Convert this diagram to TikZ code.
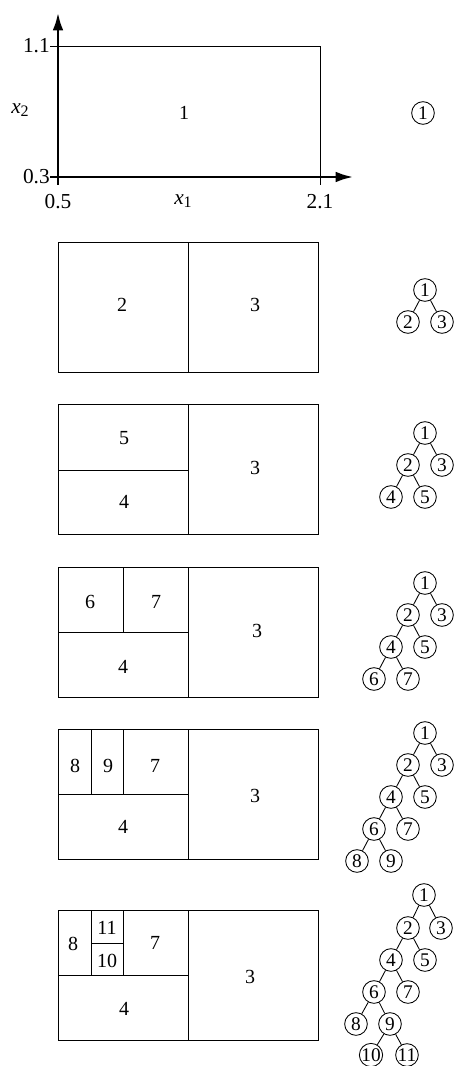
\documentclass[tikz,border=0pt]{standalone}
\usepackage{fontspec}
\setmainfont{Liberation Serif}
\usetikzlibrary{arrows.meta}
\begin{document}
\begin{tikzpicture}[x=0.75pt,y=-0.75pt,
  cell/.style={draw, line width=0.65pt},
  lab/.style={font=\fontsize{15}{17}\selectfont, inner sep=0pt},
  axlab/.style={font=\fontsize{16}{18}\selectfont, inner sep=0pt},
  tn/.style={circle, draw, line width=0.65pt, minimum size=17pt, inner sep=0pt, font=\fontsize{14.5}{16}\selectfont},
  tedge/.style={line width=0.65pt},
  axis/.style={line width=1.7pt, -{Latex[length=13pt,width=8pt]}}]
\useasboundingbox (0,0) rectangle (453,1066);

% ---------- Panel 1 ----------
\coordinate (xs) at (50,177);
\coordinate (xe) at (353,177);
\coordinate (ys) at (58,185);
\coordinate (ye) at (58,13);
\draw[cell] (50,46) -- (320,46) -- (320,185);
\draw[axis] (ys) -- (ye);
\draw[axis] (xs) -- (xe);
\node[axlab, anchor=east] (l11) at (50,46) {1.1};
\node[axlab, anchor=east] (l03) at (50,177) {0.3};
\node[axlab] (l05) at (58,202) {0.5};
\node[axlab] (l21) at (320,202) {2.1};
\node[axlab] (lx1) at (183,201) {\textit{x}\raisebox{-0.35ex}{\fontsize{12}{13}\selectfont 1}};
\node[axlab] (lx2) at (20,110) {\textit{x}\raisebox{-0.35ex}{\fontsize{12}{13}\selectfont 2}};
\node[lab] (r1) at (184,113) {1};
\node[tn] (a1) at (423,113) {1};

% ---------- Panel 2 ----------
\draw[cell] (58,242) rectangle (318,372);
\draw[cell] (188,242) -- (188,372);
\node[lab] (b2) at (122,305) {2};
\node[lab] (b3) at (255,305) {3};
\node[tn] (bt1) at (425,290) {1};
\node[tn] (bt2) at (408,322) {2};
\node[tn] (bt3) at (442,322) {3};
\draw[tedge] (bt1) -- (bt2);
\draw[tedge] (bt1) -- (bt3);

% ---------- Panel 3 ----------
\draw[cell] (58,404) rectangle (318,534);
\draw[cell] (188,404) -- (188,534);
\draw[cell] (58,470) -- (188,470);
\node[lab] (c5) at (124,438) {5};
\node[lab] (c4) at (124,502) {4};
\node[lab] (c3) at (255,468) {3};
\node[tn] (ct1) at (425,433) {1};
\node[tn] (ct2) at (408,465) {2};
\node[tn] (ct3) at (442,465) {3};
\node[tn] (ct4) at (391,497) {4};
\node[tn] (ct5) at (425,497) {5};
\draw[tedge] (ct1) -- (ct2);
\draw[tedge] (ct1) -- (ct3);
\draw[tedge] (ct2) -- (ct4);
\draw[tedge] (ct2) -- (ct5);

% ---------- Panel 4 ----------
\draw[cell] (58,567) rectangle (318,697);
\draw[cell] (188,567) -- (188,697);
\draw[cell] (58,632) -- (188,632);
\draw[cell] (123,567) -- (123,632);
\node[lab] (d6) at (90,602) {6};
\node[lab] (d7) at (156,602) {7};
\node[lab] (d4) at (123,667) {4};
\node[lab] (d3) at (257,631) {3};
\node[tn] (dt1) at (425,583) {1};
\node[tn] (dt2) at (408,615) {2};
\node[tn] (dt3) at (442,615) {3};
\node[tn] (dt4) at (391,647) {4};
\node[tn] (dt5) at (425,647) {5};
\node[tn] (dt6) at (374,679) {6};
\node[tn] (dt7) at (408,679) {7};
\draw[tedge] (dt1) -- (dt2);
\draw[tedge] (dt1) -- (dt3);
\draw[tedge] (dt2) -- (dt4);
\draw[tedge] (dt2) -- (dt5);
\draw[tedge] (dt4) -- (dt6);
\draw[tedge] (dt4) -- (dt7);

% ---------- Panel 5 ----------
\draw[cell] (58,729) rectangle (318,859);
\draw[cell] (188,729) -- (188,859);
\draw[cell] (58,794) -- (188,794);
\draw[cell] (91,729) -- (91,794);
\draw[cell] (123,729) -- (123,794);
\node[lab] (e8) at (75,766) {8};
\node[lab] (e9) at (108,766) {9};
\node[lab] (e7) at (155,766) {7};
\node[lab] (e4) at (123,827) {4};
\node[lab] (e3) at (255,796) {3};
\node[tn] (et1) at (425,733) {1};
\node[tn] (et2) at (408,765) {2};
\node[tn] (et3) at (442,765) {3};
\node[tn] (et4) at (391,797) {4};
\node[tn] (et5) at (425,797) {5};
\node[tn] (et6) at (374,829) {6};
\node[tn] (et7) at (408,829) {7};
\node[tn] (et8) at (357,861) {8};
\node[tn] (et9) at (391,861) {9};
\draw[tedge] (et1) -- (et2);
\draw[tedge] (et1) -- (et3);
\draw[tedge] (et2) -- (et4);
\draw[tedge] (et2) -- (et5);
\draw[tedge] (et4) -- (et6);
\draw[tedge] (et4) -- (et7);
\draw[tedge] (et6) -- (et8);
\draw[tedge] (et6) -- (et9);

% ---------- Panel 6 ----------
\draw[cell] (58,910) rectangle (318,1040);
\draw[cell] (188,910) -- (188,1040);
\draw[cell] (58,975) -- (188,975);
\draw[cell] (91,910) -- (91,975);
\draw[cell] (123,910) -- (123,975);
\draw[cell] (91,943) -- (123,943);
\node[lab] (f8) at (73,944) {8};
\node[lab] (f11) at (107,928) {11};
\node[lab] (f10) at (107,961) {10};
\node[lab] (f7) at (155,943) {7};
\node[lab] (f4) at (124,1009) {4};
\node[lab] (f3) at (250,977) {3};
\node[tn] (ft1) at (424,895) {1};
\node[tn] (ft2) at (408,928) {2};
\node[tn] (ft3) at (441,928) {3};
\node[tn] (ft4) at (391,960) {4};
\node[tn] (ft5) at (425,960) {5};
\node[tn] (ft6) at (374,992) {6};
\node[tn] (ft7) at (408,992) {7};
\node[tn] (ft8) at (356,1024) {8};
\node[tn] (ft9) at (390,1024) {9};
\node[tn] (ft10) at (371,1055) {10};
\node[tn] (ft11) at (407,1055) {11};
\draw[tedge] (ft1) -- (ft2);
\draw[tedge] (ft1) -- (ft3);
\draw[tedge] (ft2) -- (ft4);
\draw[tedge] (ft2) -- (ft5);
\draw[tedge] (ft4) -- (ft6);
\draw[tedge] (ft4) -- (ft7);
\draw[tedge] (ft6) -- (ft8);
\draw[tedge] (ft6) -- (ft9);
\draw[tedge] (ft9) -- (ft10);
\draw[tedge] (ft9) -- (ft11);
\end{tikzpicture}
\end{document}
